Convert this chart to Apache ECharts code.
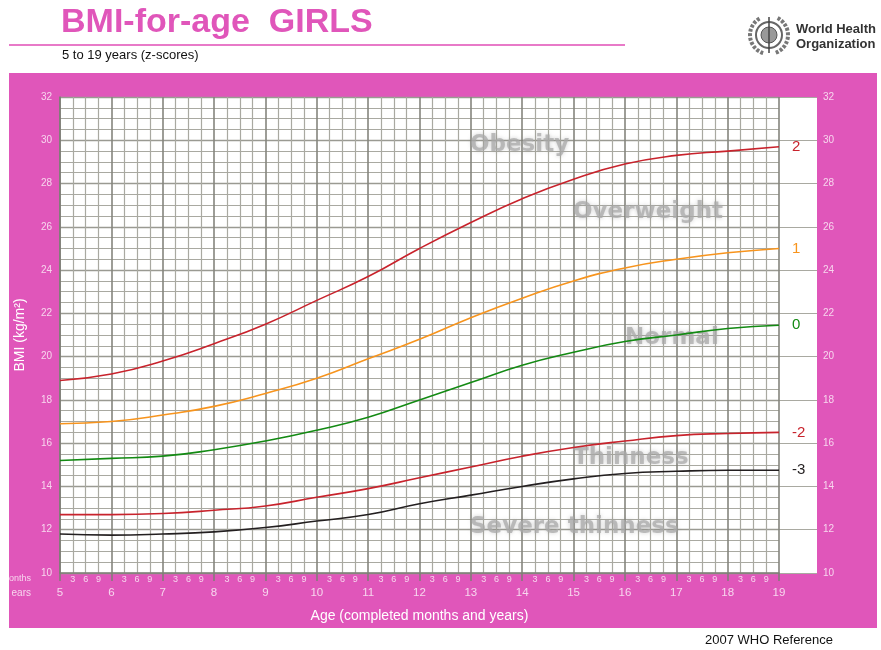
<!DOCTYPE html>
<html>
<head>
<meta charset="utf-8">
<title>BMI-for-age GIRLS</title>
<script src="https://cdn.jsdelivr.net/npm/echarts@6/dist/echarts.min.js"></script>
<style>
  html, body { margin: 0; padding: 0; background: #fff; }
  #chart { width: 881px; height: 650px; }
</style>
</head>
<body>
<div id="chart"></div>
<script>
// ages (years) and BMI z-score curves
const ages = [5, 6, 7, 8, 9, 10, 11, 12, 13, 14, 15, 16, 17, 18, 19];
const sd2 = [18.9, 19.2, 19.8, 20.6, 21.5, 22.6, 23.7, 25.0, 26.2, 27.3, 28.2, 28.9, 29.3, 29.5, 29.7];
const sd1 = [16.9, 17.0, 17.3, 17.7, 18.3, 19.0, 19.9, 20.8, 21.8, 22.7, 23.5, 24.1, 24.5, 24.8, 25.0];
const sd0 = [15.2, 15.3, 15.4, 15.7, 16.1, 16.6, 17.2, 18.0, 18.8, 19.6, 20.2, 20.7, 21.0, 21.3, 21.45];
const sdNeg2 = [12.7, 12.7, 12.75, 12.9, 13.1, 13.5, 13.9, 14.4, 14.9, 15.4, 15.8, 16.1, 16.35, 16.45, 16.5];
const sdNeg3 = [11.8, 11.75, 11.8, 11.9, 12.1, 12.4, 12.7, 13.2, 13.6, 14.0, 14.35, 14.6, 14.7, 14.75, 14.75];
const monthLabels = ['', '3', '6', '9'];

const pink = '#e056ba';
const tickText = '#f7d6ee';

const chart = echarts.init(document.getElementById('chart'));

function curve(name, values, color) {
  return {
    name: name,
    type: 'line',
    xAxisIndex: 0,
    yAxisIndex: 0,
    smooth: true,
    showSymbol: false,
    silent: true,
    z: 5,
    data: ages.map((a, i) => [a, values[i]]),
    lineStyle: { color: color, width: 1.6 },
    endLabel: {
      show: true,
      formatter: name,
      distance: 13,
      color: color,
      fontSize: 15,
      fontFamily: 'Liberation Sans'
    }
  };
}

const zoneStyle = {
  fill: 'rgba(170,170,170,0.75)',
  fontSize: 23,
  fontWeight: 'bold',
  fontFamily: 'DejaVu Sans',
  textShadowColor: 'rgba(130,130,130,0.5)',
  textShadowBlur: 4,
  textVerticalAlign: 'middle'
};

const option = {
  animation: false,
  textStyle: { fontFamily: 'Liberation Sans' },
  graphic: [
    { type: 'rect', z: -10, shape: { x: 9, y: 73, width: 868, height: 555 }, style: { fill: pink } },
    { type: 'text', left: 61, top: 6, style: { text: 'BMI-for-age  GIRLS', fill: pink, fontSize: 34, fontWeight: 'bold', fontFamily: 'Liberation Sans' } },
    { type: 'line', shape: { x1: 9, y1: 45, x2: 625, y2: 45 }, style: { stroke: '#e87ac8', lineWidth: 2 } },
    { type: 'text', left: 62, top: 49, style: { text: '5 to 19 years (z-scores)', fill: '#111', fontSize: 13, fontFamily: 'Liberation Sans' } },
    // WHO emblem (simplified)
    { type: 'circle', shape: { cx: 769, cy: 35, r: 13 }, style: { fill: 'none', stroke: '#666', lineWidth: 2 } },
    { type: 'circle', shape: { cx: 769, cy: 35, r: 8 }, style: { fill: '#999', stroke: '#555', lineWidth: 1 } },
    { type: 'line', shape: { x1: 769, y1: 17, x2: 769, y2: 53 }, style: { stroke: '#444', lineWidth: 1.5 } },
    { type: 'arc', shape: { cx: 769, cy: 35, r: 19, startAngle: Math.PI * 0.6, endAngle: Math.PI * 1.35 }, style: { fill: 'none', stroke: '#777', lineWidth: 4, lineDash: [3, 1.5] } },
    { type: 'arc', shape: { cx: 769, cy: 35, r: 19, startAngle: -Math.PI * 0.35, endAngle: Math.PI * 0.4 }, style: { fill: 'none', stroke: '#777', lineWidth: 4, lineDash: [3, 1.5] } },
    { type: 'text', left: 796, top: 22, style: { text: 'World Health\nOrganization', fill: '#333', fontSize: 13, lineHeight: 15, fontWeight: 'bold', fontFamily: 'Liberation Sans' } },
    { type: 'text', left: 705, top: 634, style: { text: '2007 WHO Reference', fill: '#111', fontSize: 13, fontFamily: 'Liberation Sans' } },
    { type: 'text', x: 31, y: 579, style: { text: 'onths', fill: tickText, fontSize: 9, textAlign: 'right', textVerticalAlign: 'middle' } },
    { type: 'text', x: 31, y: 593, style: { text: 'ears', fill: tickText, fontSize: 10, textAlign: 'right', textVerticalAlign: 'middle' } },
    // zone names
    { type: 'text', x: 470, y: 145, z: 3, style: Object.assign({ text: 'Obesity' }, zoneStyle) },
    { type: 'text', x: 573, y: 212, z: 3, style: Object.assign({ text: 'Overweight' }, zoneStyle) },
    { type: 'text', x: 625, y: 338, z: 3, style: Object.assign({ text: 'Normal' }, zoneStyle) },
    { type: 'text', x: 573, y: 458, z: 3, style: Object.assign({ text: 'Thinness' }, zoneStyle) },
    { type: 'text', x: 470, y: 527, z: 3, style: Object.assign({ text: 'Severe thinness' }, zoneStyle) }
  ],
  grid: [
    { left: 60, right: 102, top: 97, bottom: 77, show: true, backgroundColor: '#fff', borderWidth: 0 },
    { left: 779, right: 64, top: 97, bottom: 77, show: true, backgroundColor: '#fff', borderWidth: 0 }
  ],
  xAxis: [
    {
      type: 'value', gridIndex: 0, min: 5, max: 19, interval: 1,
      name: 'Age (completed months and years)', nameLocation: 'middle', nameGap: 36,
      nameTextStyle: { color: '#fff', fontSize: 14 },
      axisLine: { show: true, lineStyle: { color: '#7d7d75', width: 1.5 } },
      axisTick: { show: true, length: 8, lineStyle: { color: '#7d7d75', width: 1.5 } },
      axisLabel: { color: tickText, fontSize: 11.5, margin: 14 },
      splitLine: { show: true, lineStyle: { color: '#85857d', width: 1.6 } },
      minorTick: { show: true, splitNumber: 4, length: 0, lineStyle: { width: 0 } },
      minorSplitLine: { show: true, lineStyle: { color: '#a9a9a1', width: 1.2 } }
    },
    {
      type: 'value', gridIndex: 0, min: 5, max: 19, interval: 0.25, position: 'bottom',
      axisLine: { show: false }, axisTick: { show: false }, splitLine: { show: false },
      axisLabel: {
        color: tickText, fontSize: 9, margin: 2,
        formatter: v => monthLabels[Math.round((v % 1) * 4) % 4]
      }
    },
    { type: 'value', gridIndex: 1, min: 0, max: 1, show: false }
  ],
  yAxis: [
    {
      type: 'value', gridIndex: 0, min: 10, max: 32, interval: 2,
      name: 'BMI (kg/m²)', nameLocation: 'middle', nameGap: 33,
      nameTextStyle: { color: '#fff', fontSize: 14 },
      axisLine: { show: true, lineStyle: { color: '#7d7d75', width: 1.5 } },
      axisTick: { show: false },
      axisLabel: { color: tickText, fontSize: 10, margin: 8 },
      splitLine: { show: true, lineStyle: { color: '#9a9a92', width: 1.4 } },
      minorTick: { show: true, splitNumber: 4, length: 0, lineStyle: { width: 0 } },
      minorSplitLine: { show: true, lineStyle: { color: '#a9a9a1', width: 1.2 } }
    },
    {
      type: 'value', gridIndex: 1, min: 10, max: 32, interval: 2, position: 'right',
      axisLine: { show: false }, axisTick: { show: false },
      axisLabel: { color: tickText, fontSize: 10, margin: 6 },
      splitLine: { show: true, lineStyle: { color: '#a9a9a1', width: 1.2 } }
    }
  ],
  series: [
    curve('2', sd2, '#c8232c'),
    curve('1', sd1, '#f7941d'),
    curve('0', sd0, '#138a13'),
    curve('-2', sdNeg2, '#c8232c'),
    curve('-3', sdNeg3, '#231f20')
  ]
};

chart.setOption(option);
</script>
</body>
</html>
